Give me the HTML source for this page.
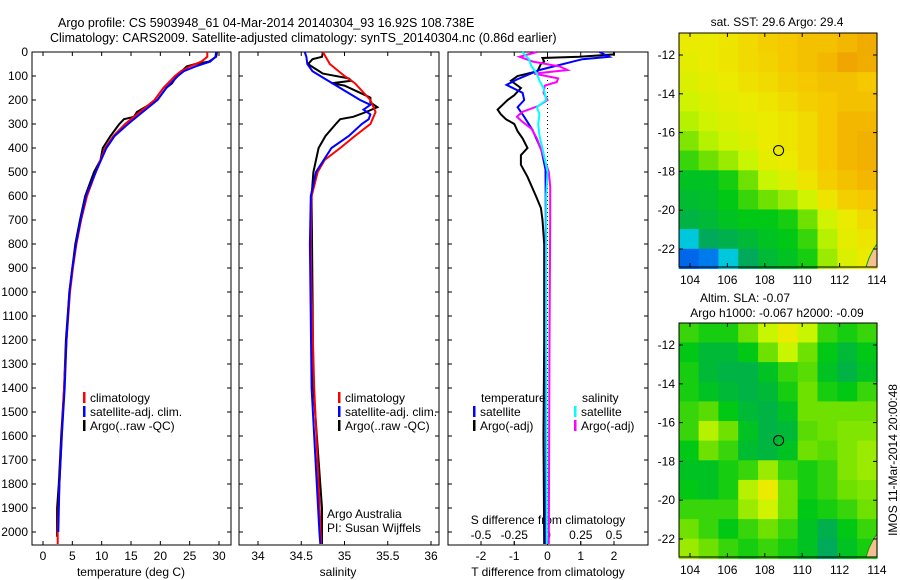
<!DOCTYPE html>
<html><head><meta charset="utf-8">
<style>
html,body{margin:0;padding:0;background:#fff;}
svg{display:block;font-family:"Liberation Sans",sans-serif;}
text{font-size:12px;fill:#000;}
</style></head>
<body>
<svg id="fig" width="900" height="580" viewBox="0 0 900 580" xmlns="http://www.w3.org/2000/svg">
<rect x="0" y="0" width="900" height="580" fill="#fff"/>
<text x="58" y="27" style="font-size:12.5px">Argo profile: CS 5903948_61 04-Mar-2014 20140304_93 16.92S 108.738E</text>
<text x="50" y="42" style="font-size:12.5px">Climatology: CARS2009. Satellite-adjusted climatology: synTS_20140304.nc (0.86d earlier)</text>
<g id="g"></g>
</svg>
<script>
// ---------- data ----------
const depthTicks=[0,100,200,300,400,500,600,700,800,900,1000,1100,1200,1300,1400,1500,1600,1700,1800,1900,2000];
const tempTicks=[0,5,10,15,20,25,30];
const salTicks=[34,34.5,35,35.5,36];
const tdiffTicks=[-2,-1,0,1,2];
const sdiffTicks=[-0.5,-0.25,0,0.25,0.5];
const lonTicks=[104,106,108,110,112,114];
const latTicks=[-12,-14,-16,-18,-20,-22];

const tClimDepth=[0,20,40,60,80,100,150,200,250,300,350,400,500,600,700,800,900,1000,1200,1400,1600,1800,2000,2050];
const tClimVal=[28,28,27,25,23.5,22.5,20.5,19,16.5,14,12,10.6,9,7.5,6.5,5.7,5.1,4.6,4,3.6,3.2,2.8,2.5,2.5];
const tSatDepth=[0,20,40,60,80,100,150,200,250,300,350,400,500,600,700,800,900,1000,1200,1400,1600,1800,2000];
const tSatVal=[29.5,29.4,28.5,26,24,23,21,19.5,17,14.5,12.2,10.8,9,7.3,6.4,5.6,5.0,4.5,4.0,3.7,3.2,2.8,2.6];
const tArgoDepth=[0,10,20,40,50,60,100,130,150,200,250,270,280,300,350,400,450,500,600,700,800,1000,1200,1400,1600,1800,1900,2020];
const tArgoVal=[29.6,29.6,29.5,28.3,26,24.5,22.8,22,21,19.5,16,15.5,13.8,13,11.5,10.2,9.8,8.7,7.2,6.3,5.5,4.5,3.9,3.6,3.1,2.7,2.4,2.4];

const sClimDepth=[0,50,100,130,200,250,300,350,400,450,500,600,800,1000,1400,1800,2050];
const sClimVal=[34.75,34.83,35.0,35.12,35.3,35.36,35.3,35.12,34.95,34.77,34.69,34.62,34.61,34.62,34.65,34.7,34.73];
const sSatDepth=[0,20,50,80,100,150,200,220,240,260,280,300,350,400,500,600,800,1400,2000,2050];
const sSatVal=[34.54,34.56,34.57,34.63,34.72,34.95,35.18,35.3,35.22,35.3,35.28,35.2,35.05,34.85,34.67,34.61,34.6,34.62,34.71,34.72];
const sArgoDepth=[0,20,30,50,60,90,110,120,130,140,170,190,210,230,250,270,280,300,350,400,500,600,1400,1900,2050];
const sArgoVal=[34.75,34.74,34.63,34.58,34.62,34.75,35.05,35.08,34.85,35.0,35.18,35.3,35.3,35.38,35.25,35.1,34.95,34.9,34.78,34.7,34.64,34.62,34.64,34.74,34.74];

const dTSatDepth=[0,20,30,75,115,137,170,200,230,270,325,410,490,700,1200,2050];
const dTSatVal=[1.56,1.86,1.05,-0.24,-0.93,-1.23,-0.75,-0.7,-0.9,-0.7,-0.45,-0.18,-0.06,-0.05,-0.05,-0.05];
const dTArgoDepth=[0,10,20,25,40,50,80,100,120,150,180,200,220,240,260,280,300,330,360,400,430,470,520,600,650,700,800,1200,1600,2050];
const dTArgoVal=[2.0,2.0,0.96,-0.15,-0.1,-0.2,-0.3,-0.9,-1.1,-0.8,-1.0,-1.2,-1.35,-1.5,-1.4,-1.25,-1.0,-0.9,-0.75,-0.6,-0.8,-0.8,-0.6,-0.35,-0.2,-0.15,-0.1,-0.1,-0.12,-0.1];
const dSSatDepth=[0,30,60,90,120,150,200,230,260,300,350,420,500,600,1200,2050];
const dSSatVal=[-0.19,-0.14,-0.12,-0.08,-0.06,-0.03,-0.01,-0.08,-0.06,-0.07,-0.06,-0.03,0,-0.01,-0.01,-0.005];
const dSArgoDepth=[0,20,40,60,75,90,110,125,140,170,200,225,250,270,290,320,360,420,500,560,700,1200,2050];
const dSArgoVal=[-0.08,-0.21,-0.11,0.09,0.15,-0.1,0.08,0.07,-0.02,-0.03,0,-0.07,-0.19,-0.23,-0.19,-0.12,-0.08,-0.04,0.01,0.02,0.02,0.015,0.01];

const sstGrid=[
[0.7,0.7,0.72,0.75,0.78,0.8,0.82,0.82,0.85,0.88],
[0.68,0.7,0.72,0.75,0.77,0.8,0.82,0.85,0.9,0.88],
[0.65,0.68,0.7,0.73,0.75,0.78,0.8,0.82,0.82,0.8],
[0.62,0.65,0.68,0.7,0.72,0.75,0.78,0.8,0.82,0.82],
[0.58,0.62,0.65,0.68,0.7,0.72,0.75,0.8,0.85,0.85],
[0.52,0.58,0.62,0.65,0.7,0.72,0.75,0.8,0.85,0.87],
[0.45,0.5,0.55,0.6,0.68,0.7,0.75,0.8,0.85,0.87],
[0.38,0.38,0.42,0.5,0.6,0.65,0.72,0.78,0.82,0.85],
[0.36,0.37,0.4,0.45,0.5,0.55,0.62,0.72,0.78,0.8],
[0.33,0.35,0.38,0.4,0.4,0.42,0.5,0.62,0.7,0.75],
[0.2,0.3,0.32,0.35,0.38,0.4,0.45,0.58,0.68,0.72],
[0.05,0.08,0.2,0.3,0.35,0.38,0.42,0.55,0.65,0.7]];
const slaGrid=[
[0.45,0.42,0.42,0.5,0.6,0.7,0.6,0.45,0.42,0.45],
[0.4,0.35,0.35,0.4,0.5,0.6,0.5,0.4,0.35,0.4],
[0.42,0.35,0.33,0.33,0.38,0.45,0.48,0.38,0.33,0.38],
[0.42,0.38,0.35,0.33,0.35,0.42,0.5,0.42,0.4,0.45],
[0.45,0.48,0.4,0.35,0.33,0.38,0.5,0.5,0.5,0.5],
[0.45,0.58,0.5,0.38,0.33,0.35,0.48,0.5,0.52,0.52],
[0.4,0.5,0.45,0.36,0.34,0.38,0.5,0.48,0.52,0.55],
[0.38,0.38,0.42,0.45,0.55,0.45,0.42,0.45,0.52,0.55],
[0.4,0.38,0.42,0.58,0.7,0.5,0.42,0.45,0.5,0.52],
[0.45,0.45,0.45,0.55,0.62,0.5,0.4,0.42,0.45,0.5],
[0.5,0.45,0.4,0.45,0.5,0.45,0.38,0.32,0.4,0.45],
[0.55,0.5,0.45,0.42,0.45,0.42,0.38,0.3,0.38,0.42]];
const argoLon=108.738, argoLat=-16.92;

// ---------- helpers ----------
const NS="http://www.w3.org/2000/svg";
const G=document.getElementById('g');
function el(tag,attrs,parent){const e=document.createElementNS(NS,tag);for(const k in attrs)e.setAttribute(k,attrs[k]);(parent||G).appendChild(e);return e;}
function txt(x,y,s,anchor,parent){const t=el('text',{x:x,y:y,'text-anchor':anchor||'start'},parent);t.textContent=s;return t;}
function lin(d0,d1,r0,r1){return v=>r0+(v-d0)*(r1-r0)/(d1-d0);}

const TOP=52, BOT=545;
const yD=lin(0,2000,52,532);

function panel(name,x0,x1){
  const r=el('rect',{x:x0,y:TOP,width:x1-x0,height:BOT-TOP,fill:'none',stroke:'#000','stroke-width':1});
  
  
  depthTicks.forEach(d=>{
    el('line',{x1:x0,x2:x0+4,y1:yD(d),y2:yD(d),stroke:'#000'});
    el('line',{x1:x1-4,x2:x1,y1:yD(d),y2:yD(d),stroke:'#000'});
  });
}
function xticks(xs,fx,lblY,top,bottom){
  xs.forEach(v=>{const x=fx(v);
    if(bottom){el('line',{x1:x,x2:x,y1:BOT-4,y2:BOT,stroke:'#000'});}
    if(top){el('line',{x1:x,x2:x,y1:TOP,y2:TOP+4,stroke:'#000'});}
    if(lblY){const t=txt(x,lblY,String(v),'middle');}
  });
}
function series(name,depths,vals,fx,color,w){
  const pts=depths.map((d,i)=>fx(vals[i]).toFixed(1)+','+yD(d).toFixed(1)).join(' ');
  const p=el('polyline',{points:pts,fill:'none',stroke:color,'stroke-width':w||2,'stroke-linejoin':'miter'});
  
  
}
function legend(x,y,items){
  items.forEach((it,i)=>{
    const yy=y+i*14;
    el('rect',{x:x,y:yy-10,width:2.5,height:11,fill:it[1]});
    const t=txt(x+7,yy,it[0]);
    
    
  });
}

// ---------- panel 1 temperature ----------
const xT=lin(0,30,43,219);
panel('temperature-panel',32,231);
depthTicks.forEach(d=>{const t=txt(28,yD(d)+4,String(d),'end');});
xticks(tempTicks,xT,560,true,true);
const tl=txt(131,576,'temperature (deg C)','middle');


series('temperature-argo',tArgoDepth,tArgoVal,xT,'#000',2);
series('temperature-climatology',tClimDepth,tClimVal,xT,'#f00',2);
series('temperature-satellite-adj',tSatDepth,tSatVal,xT,'#00f',2);
legend(83,402,[['climatology','#f00'],['satellite-adj. clim.','#00f'],['Argo(..raw -QC)','#000']]);

// ---------- panel 2 salinity ----------
const xS=lin(34,36,258,431);
panel('salinity-panel',239,439);
xticks(salTicks,xS,560,true,true);
const sl=txt(338,576,'salinity','middle');


series('salinity-argo',sArgoDepth,sArgoVal,xS,'#000',2);
series('salinity-climatology',sClimDepth,sClimVal,xS,'#f00',2);
series('salinity-satellite-adj',sSatDepth,sSatVal,xS,'#00f',2);
legend(338,402,[['climatology','#f00'],['satellite-adj. clim.','#00f'],['Argo(..raw -QC)','#000']]);
const a1=txt(327,518,'Argo Australia');
const a2=txt(327,532,'PI: Susan Wijffels');

// ---------- panel 3 differences ----------
const xDT=lin(-2,2,481,614);
const xDS=lin(-0.5,0.5,481,614);
panel('difference-panel',448,648);
xticks(tdiffTicks,xDT,560,false,true);
xticks(sdiffTicks,xDS,null,true,false);
sdiffTicks.forEach(v=>{const t=txt(xDS(v),539,String(v),'middle');});
sdiffTicks.forEach(v=>{el('line',{x1:xDS(v),x2:xDS(v),y1:BOT-4,y2:BOT,stroke:'#000'});});
const sdt=txt(548,524,'S difference from climatology','middle');
const tdt=txt(548,576,'T difference from climatology','middle');
el('line',{x1:xDT(0),x2:xDT(0),y1:TOP,y2:BOT,stroke:'#000','stroke-dasharray':'1,3'});
series('t-diff-argo',dTArgoDepth,dTArgoVal,xDT,'#000',2);
series('t-diff-satellite',dTSatDepth,dTSatVal,xDT,'#00f',2);
series('s-diff-argo',dSArgoDepth,dSArgoVal,xDS,'#f0f',2);
series('s-diff-satellite',dSSatDepth,dSSatVal,xDS,'#0ff',2);
const lt=txt(481,402,'temperature');
const ls=txt(582,402,'salinity');
legend(473,416,[['satellite','#00f'],['Argo(-adj)','#000']]);
legend(574,416,[['satellite','#0ff'],['Argo(-adj)','#f0f']]);

// ---------- maps ----------
const cmapStops=[[0,[0,70,230]],[0.12,[0,150,240]],[0.2,[0,200,220]],[0.3,[0,170,90]],[0.4,[0,200,20]],[0.5,[110,225,0]],[0.6,[200,245,0]],[0.7,[235,235,0]],[0.8,[245,200,0]],[0.9,[240,165,0]],[1,[230,135,0]]];
function cmap(v){
  for(let i=1;i<cmapStops.length;i++){
    if(v<=cmapStops[i][0]){const a=cmapStops[i-1],b=cmapStops[i];const f=(v-a[0])/(b[0]-a[0]);
      const c=a[1].map((q,k)=>Math.round(q+(b[1][k]-q)*f));return 'rgb('+c.join(',')+')';}
  }
  return 'rgb(230,135,0)';
}
function drawMap(name,grid,x0,y0,x1,y1){
  const xL=lin(104,114,690,877), yL=lin(-12,-22,y0+22,y0+216);
  const lon0=103.4, lon1=114, lat0=-10.86, lat1=-23.0;
  const nr=grid.length,nc=grid[0].length;
  const g=el('g',{});
  
  
  grid.forEach((row,i)=>row.forEach((v,j)=>{
    const la=lon0+(lon1-lon0)*j/nc, lb=lon0+(lon1-lon0)*(j+1)/nc;
    const ta=lat0+(lat1-lat0)*i/nr, tb=lat0+(lat1-lat0)*(i+1)/nr;
    const r=el('rect',{x:xL(la).toFixed(1),y:yL(ta).toFixed(1),width:(xL(lb)-xL(la)+0.6).toFixed(1),height:(yL(tb)-yL(ta)+0.6).toFixed(1),fill:cmap(v)},g);
    
    
  }));
  el('polygon',{points:`${x1-11},${y1} ${x1-8},${y1-9} ${x1-4},${y1-17} ${x1},${y1-23} ${x1},${y1}`,fill:'#f5c090',stroke:'#00a000','stroke-width':1});
  el('rect',{x:x0,y:y0,width:x1-x0,height:y1-y0,fill:'none',stroke:'#000'});
  lonTicks.forEach(v=>{const x=xL(v);
    el('line',{x1:x,x2:x,y1:y0,y2:y0+4,stroke:'#000'});el('line',{x1:x,x2:x,y1:y1-4,y2:y1,stroke:'#000'});
    const t=txt(x,y1+17,String(v),'middle');});
  latTicks.forEach(v=>{const y=yL(v);
    el('line',{x1:x0,x2:x0+4,y1:y,y2:y,stroke:'#000'});el('line',{x1:x1-4,x2:x1,y1:y,y2:y,stroke:'#000'});
    const t=txt(x0-4,y+4,String(v),'end');});
  const c=el('circle',{cx:xL(argoLon),cy:yL(argoLat),r:5,fill:'none',stroke:'#000','stroke-width':1});
  
  
}
drawMap('sst-map',sstGrid,679,33,877,267);
drawMap('sla-map',slaGrid,679,323,877,557);
const m1=txt(777,26,'sat. SST: 29.6 Argo: 29.4','middle');
const m2=txt(745,302,'Altim. SLA: -0.07','middle');
const m3=txt(777,317,'Argo h1000: -0.067 h2000: -0.09','middle');
const im=txt(0,0,'IMOS 11-Mar-2014 20:00:48','middle');
im.setAttribute('transform','translate(897,460) rotate(-90)');


</script>
</body></html>
